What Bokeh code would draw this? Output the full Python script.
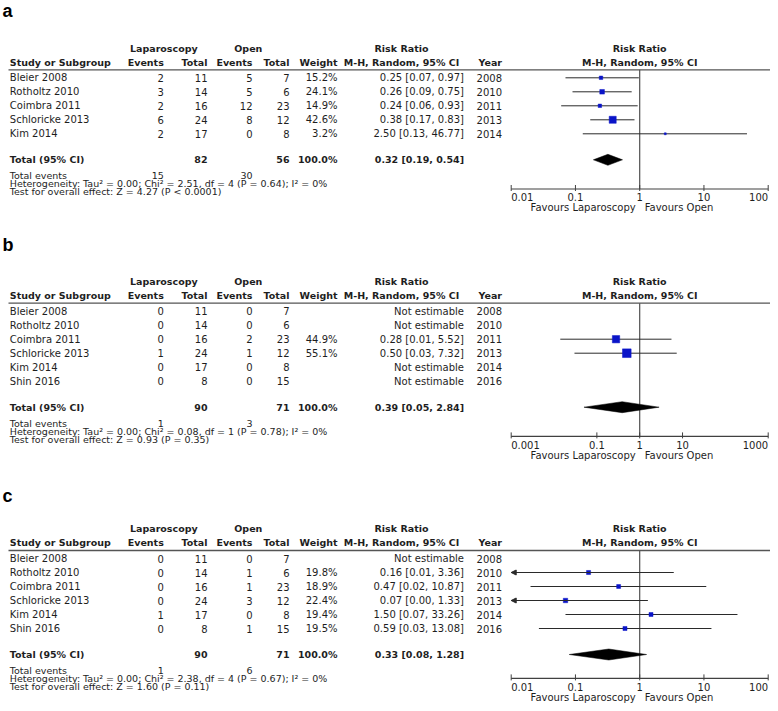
import math
from bokeh.plotting import figure
from bokeh.models import Range1d, LogScale, Arrow, NormalHead
from bokeh.core.properties import value
from bokeh.embed import file_html
from bokeh.resources import INLINE

NAN = float("nan")

# ---------------- data: panel a ----------------
A_STUDY = ["Bleier 2008", "Rotholtz 2010", "Coimbra 2011", "Schloricke 2013", "Kim 2014"]
A_LAP_EV = [2, 3, 2, 6, 2]
A_LAP_N = [11, 14, 16, 24, 17]
A_OPEN_EV = [5, 5, 12, 8, 0]
A_OPEN_N = [7, 6, 23, 12, 8]
A_WEIGHT = [15.2, 24.1, 14.9, 42.6, 3.2]
A_RR = [0.25, 0.26, 0.24, 0.38, 2.50]
A_LO = [0.07, 0.09, 0.06, 0.17, 0.13]
A_HI = [0.97, 0.75, 0.93, 0.83, 46.77]
A_YEAR = [2008, 2010, 2011, 2013, 2014]
A_POOLED = [0.32, 0.19, 0.54]
A_HET = "Heterogeneity: Tau\u00b2 = 0.00; Chi\u00b2 = 2.51, df = 4 (P = 0.64); I\u00b2 = 0%"
A_TEST = "Test for overall effect: Z = 4.27 (P < 0.0001)"
A_TICKS = [0.01, 0.1, 1, 10, 100]
A_TICK_LABELS = ["0.01", "0.1", "1", "10", "100"]

# ---------------- data: panel b ----------------
B_STUDY = ["Bleier 2008", "Rotholtz 2010", "Coimbra 2011", "Schloricke 2013", "Kim 2014", "Shin 2016"]
B_LAP_EV = [0, 0, 0, 1, 0, 0]
B_LAP_N = [11, 14, 16, 24, 17, 8]
B_OPEN_EV = [0, 0, 2, 1, 0, 0]
B_OPEN_N = [7, 6, 23, 12, 8, 15]
B_WEIGHT = [NAN, NAN, 44.9, 55.1, NAN, NAN]
B_RR = [NAN, NAN, 0.28, 0.50, NAN, NAN]
B_LO = [NAN, NAN, 0.014, 0.03, NAN, NAN]
B_HI = [NAN, NAN, 5.52, 7.32, NAN, NAN]
B_YEAR = [2008, 2010, 2011, 2013, 2014, 2016]
B_POOLED = [0.39, 0.05, 2.84]
B_HET = "Heterogeneity: Tau\u00b2 = 0.00; Chi\u00b2 = 0.08, df = 1 (P = 0.78); I\u00b2 = 0%"
B_TEST = "Test for overall effect: Z = 0.93 (P = 0.35)"
B_TICKS = [0.001, 0.1, 1, 10, 1000]
B_TICK_LABELS = ["0.001", "0.1", "1", "10", "1000"]

# ---------------- data: panel c ----------------
C_STUDY = ["Bleier 2008", "Rotholtz 2010", "Coimbra 2011", "Schloricke 2013", "Kim 2014", "Shin 2016"]
C_LAP_EV = [0, 0, 0, 0, 1, 0]
C_LAP_N = [11, 14, 16, 24, 17, 8]
C_OPEN_EV = [0, 1, 1, 3, 0, 1]
C_OPEN_N = [7, 6, 23, 12, 8, 15]
C_WEIGHT = [NAN, 19.8, 18.9, 22.4, 19.4, 19.5]
C_RR = [NAN, 0.16, 0.47, 0.07, 1.50, 0.59]
C_LO = [NAN, 0.0075, 0.02, 0.004, 0.07, 0.027]
C_HI = [NAN, 3.36, 10.87, 1.33, 33.26, 13.08]
C_YEAR = [2008, 2010, 2011, 2013, 2014, 2016]
C_POOLED = [0.33, 0.08, 1.28]
C_HET = "Heterogeneity: Tau\u00b2 = 0.00; Chi\u00b2 = 2.38, df = 4 (P = 0.67); I\u00b2 = 0%"
C_TEST = "Test for overall effect: Z = 1.60 (P = 0.11)"
C_TICKS = [0.01, 0.1, 1, 10, 100]
C_TICK_LABELS = ["0.01", "0.1", "1", "10", "100"]

PANELS = [
    dict(letter="a", study=A_STUDY, lap_ev=A_LAP_EV, lap_n=A_LAP_N, open_ev=A_OPEN_EV, open_n=A_OPEN_N,
         weight=A_WEIGHT, rr=A_RR, lo=A_LO, hi=A_HI, year=A_YEAR, pooled=A_POOLED, het=A_HET, test=A_TEST,
         ticks=A_TICKS, tick_labels=A_TICK_LABELS),
    dict(letter="b", study=B_STUDY, lap_ev=B_LAP_EV, lap_n=B_LAP_N, open_ev=B_OPEN_EV, open_n=B_OPEN_N,
         weight=B_WEIGHT, rr=B_RR, lo=B_LO, hi=B_HI, year=B_YEAR, pooled=B_POOLED, het=B_HET, test=B_TEST,
         ticks=B_TICKS, tick_labels=B_TICK_LABELS),
    dict(letter="c", study=C_STUDY, lap_ev=C_LAP_EV, lap_n=C_LAP_N, open_ev=C_OPEN_EV, open_n=C_OPEN_N,
         weight=C_WEIGHT, rr=C_RR, lo=C_LO, hi=C_HI, year=C_YEAR, pooled=C_POOLED, het=C_HET, test=C_TEST,
         ticks=C_TICKS, tick_labels=C_TICK_LABELS),
]

# ---------------- layout / style ----------------
FIG_W, FIG_H = 770, 703
PX0, PX1 = 0, 770
PY0, PY1 = 0, 703
RULE_Y = [69.3, 302.7, 550.0]
LETTER_Y = [10.5, 244.0, 495.0]   # vertical middle of the panel letters
ROW_STEP = 14.0
AX_L, AX_R = 510.7, 767.7  # forest axis pixel extent
RULE_L, RULE_R = 8, 770
BOTTOM_TEXT_MAX = FIG_H - 6.5  # keep the lowest text line inside the canvas
FAV_GAP = 18.6                 # axis line -> "Favours" line
TICKLAB_GAP = 8.2              # axis line -> tick labels

FONT = "DejaVu Sans"
TXT = "#1e1e1e"
LINE = "#2a2a2a"
RULE_C = "#555555"
BLUE = "#0a14c8"
REG_SIZE = "10px"
SMALL_SIZE = "9.5px"
BOLD_SIZE = "9.5px"

COL_STUDY = 9.3
COL_LAP_EV = 163.3
COL_LAP_N = 207.0
COL_OPEN_EV = 252.0
COL_OPEN_N = 289.0
COL_WEIGHT = 337.0
COL_RR = 463.5
COL_YEAR = 501.5
COL_LAP_HDR = 163.3
COL_OPEN_HDR = 247.8
COL_RR_HDR = 401.0
COL_LETTER = 2.0

p = figure(width=FIG_W, height=FIG_H, x_range=Range1d(PX0, PX1), y_range=Range1d(PY1, PY0),
           output_backend="svg", toolbar_location=None, x_axis_location=None, y_axis_location=None,
           min_border=0)
# the figure fills the window up to its right/bottom edge; cancel the body margin there
p.margin = (0, -8, -8, 0)
p.outline_line_color = None
p.grid.visible = False
p.background_fill_color = "white"
p.border_fill_color = "white"

extra_ranges = {}
extra_scales = {}
for k, P in enumerate(PANELS):
    tmin, tmax = P["ticks"][0], P["ticks"][-1]
    dec = (AX_R - AX_L) / (math.log10(tmax) - math.log10(tmin))
    start = 10 ** (math.log10(tmin) - (AX_L - PX0) / dec)
    end = 10 ** (math.log10(tmax) + (PX1 - AX_R) / dec)
    extra_ranges["f%d" % k] = Range1d(start, end)
    extra_scales["f%d" % k] = LogScale()
p.extra_x_ranges = extra_ranges
p.extra_x_scales = extra_scales


def txt(xs, ys, texts, align="left", bold=False, rng=None, color=TXT, size=None, x_offset=0):
    kw = dict(x=list(xs), y=list(ys), text=list(texts), x_offset=x_offset,
              text_font=value(FONT), text_font_size=size or (BOLD_SIZE if bold else REG_SIZE),
              text_font_style="bold" if bold else "normal", text_align=align,
              text_baseline="middle", text_color=color)
    if rng:
        kw["x_range_name"] = rng
    p.text(**kw)


for k, P in enumerate(PANELS):
    rng = "f%d" % k
    R = RULE_Y[k]
    n = len(P["study"])
    rows = [R + 8 + ROW_STEP * i for i in range(n)]
    tot_y = rows[-1] + 26
    ev_y = tot_y + 16
    het_y = ev_y + 8
    test_y = het_y + 8
    axis_y = min(tot_y + 29.2, BOTTOM_TEXT_MAX - FAV_GAP)
    h1, h2 = R - 21.6, R - 7.6
    tmin, tmax = P["ticks"][0], P["ticks"][-1]

    # panel letter
    p.text(x=[COL_LETTER], y=[LETTER_Y[k]], text=[P["letter"]], text_font=value("Liberation Sans"),
           text_font_size="18px", text_font_style="bold", text_baseline="middle",
           text_color="black")

    # headers
    txt([COL_LAP_HDR, COL_OPEN_HDR, COL_RR_HDR], [h1] * 3, ["Laparoscopy", "Open", "Risk Ratio"],
        align="center", bold=True)
    txt([COL_STUDY], [h2], ["Study or Subgroup"], bold=True)
    txt([COL_LAP_EV, COL_LAP_N, COL_OPEN_EV, COL_OPEN_N, COL_WEIGHT, COL_YEAR], [h2] * 6,
        ["Events", "Total", "Events", "Total", "Weight", "Year"], align="right", bold=True)
    txt([COL_RR_HDR], [h2], ["M-H, Random, 95% CI"], align="center", bold=True)
    txt([1, 1], [h1, h2], ["Risk Ratio", "M-H, Random, 95% CI"], align="center", bold=True, rng=rng)
    p.segment(x0=[RULE_L], y0=[R], x1=[RULE_R], y1=[R], line_color=RULE_C, line_width=1.3)

    # study rows
    txt([COL_STUDY] * n, rows, P["study"])
    txt([COL_LAP_EV] * n, rows, [str(v) for v in P["lap_ev"]], align="right")
    txt([COL_LAP_N] * n, rows, [str(v) for v in P["lap_n"]], align="right")
    txt([COL_OPEN_EV] * n, rows, [str(v) for v in P["open_ev"]], align="right")
    txt([COL_OPEN_N] * n, rows, [str(v) for v in P["open_n"]], align="right")
    wt = ["" if math.isnan(w) else "%.1f%%" % w for w in P["weight"]]
    txt([COL_WEIGHT] * n, rows, wt, align="right")
    rrt = []
    for r, lo, hi in zip(P["rr"], P["lo"], P["hi"]):
        rrt.append("Not estimable" if math.isnan(r) else "%.2f [%.2f, %.2f]" % (r, lo, hi))
    txt([COL_RR] * n, rows, rrt, align="right")
    txt([COL_YEAR] * n, rows, [str(y) for y in P["year"]], align="right")

    # totals
    wsum = sum(w for w in P["weight"] if not math.isnan(w))
    pr, pl, ph = P["pooled"]
    txt([COL_STUDY], [tot_y], ["Total (95% CI)"], bold=True)
    txt([COL_LAP_N, COL_OPEN_N, COL_WEIGHT, COL_RR], [tot_y] * 4,
        [str(sum(P["lap_n"])), str(sum(P["open_n"])), "%.1f%%" % wsum, "%.2f [%.2f, %.2f]" % (pr, pl, ph)],
        align="right", bold=True)
    txt([COL_STUDY], [ev_y], ["Total events"], size=SMALL_SIZE)
    txt([COL_LAP_EV, COL_OPEN_EV], [ev_y] * 2, [str(sum(P["lap_ev"])), str(sum(P["open_ev"]))],
        align="right", size=SMALL_SIZE)
    txt([COL_STUDY, COL_STUDY], [het_y, test_y], [P["het"], P["test"]], size=SMALL_SIZE)

    # forest: line of no effect and axis
    p.segment(x0=[1], y0=[R], x1=[1], y1=[axis_y], line_color="#505050", line_width=1.2, x_range_name=rng)
    p.segment(x0=[tmin], y0=[axis_y], x1=[tmax], y1=[axis_y], line_color="#404040", line_width=1.2,
              x_range_name=rng)
    nt = len(P["ticks"])
    p.segment(x0=P["ticks"], y0=[axis_y - 4] * nt, x1=P["ticks"], y1=[axis_y + 2] * nt,
              line_color="#404040", line_width=1, x_range_name=rng)
    aligns = ["left"] + ["center"] * (nt - 2) + ["right"]
    for t, lab, al in zip(P["ticks"], P["tick_labels"], aligns):
        txt([t], [axis_y + TICKLAB_GAP], [lab], align=al, rng=rng)
    fav_y = axis_y + FAV_GAP
    txt([1], [fav_y], ["Favours Laparoscopy"], align="right", rng=rng, x_offset=-4)
    txt([1], [fav_y], ["Favours Open"], align="left", rng=rng, x_offset=5)

    # study CIs and squares
    idx = [i for i in range(n) if not math.isnan(P["rr"][i])]
    x0 = [max(P["lo"][i], tmin) for i in idx]
    x1 = [min(P["hi"][i], tmax) for i in idx]
    ys = [rows[i] for i in idx]
    p.segment(x0=x0, y0=ys, x1=x1, y1=ys, line_color=LINE, line_width=1, x_range_name=rng)
    for i in idx:
        if P["lo"][i] < tmin:
            p.add_layout(Arrow(end=NormalHead(size=5, fill_color=LINE, line_color=LINE, line_width=1),
                               x_start=min(P["hi"][i], tmax), y_start=rows[i], x_end=tmin, y_end=rows[i],
                               line_color=LINE, line_width=1, x_range_name=rng))
    sizes = [1.5 + 0.13 * P["weight"][i] for i in idx]
    p.scatter(x=[P["rr"][i] for i in idx], y=ys, size=sizes, marker="square",
              fill_color=BLUE, line_color=BLUE, line_width=0.5, x_range_name=rng)

    # pooled diamond
    dh = 5.5
    p.patch(x=[pl, pr, ph, pr], y=[tot_y, tot_y - dh, tot_y, tot_y + dh], fill_color="black",
            line_color="black", line_width=0.5, x_range_name=rng)

open("out.html", "w").write(file_html(p, INLINE))
